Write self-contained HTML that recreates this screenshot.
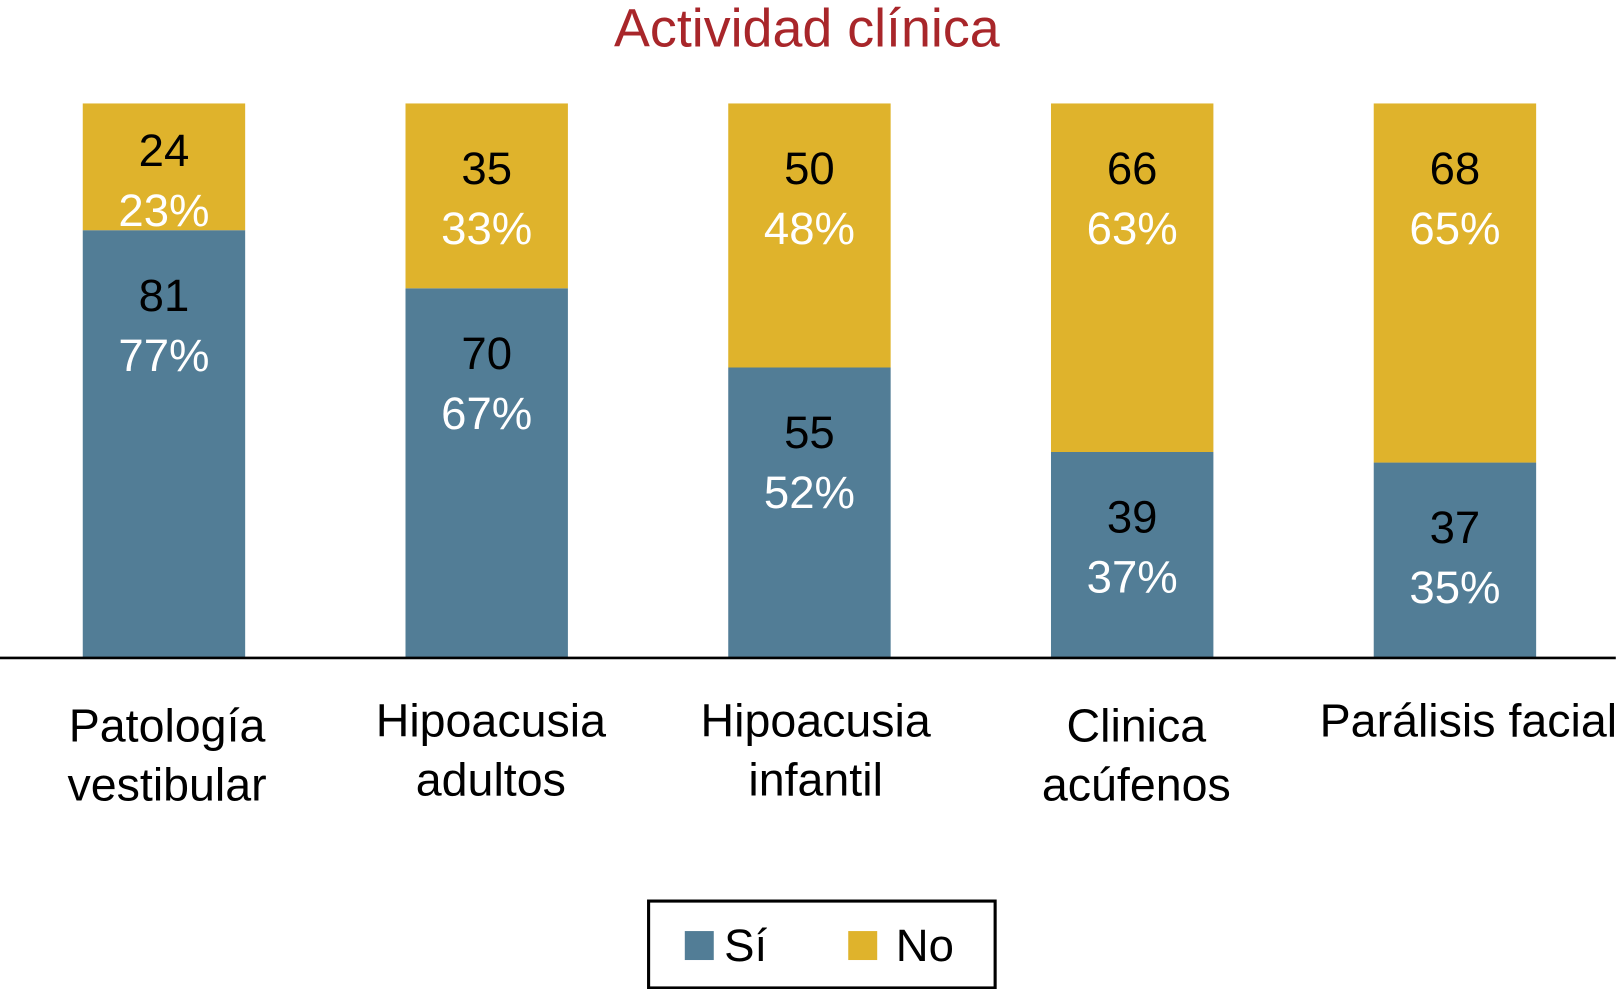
<!DOCTYPE html>
<html><head><meta charset="utf-8"><style>
html,body{margin:0;padding:0;background:#fff;width:1622px;height:989px;overflow:hidden}
svg{display:block}
text{font-family:"Liberation Sans",sans-serif}
</style></head><body>
<svg id="chart" width="1622" height="989" viewBox="0 0 1568 956" preserveAspectRatio="none" xmlns="http://www.w3.org/2000/svg">
<text x="780" y="45" text-anchor="middle" font-size="52" fill="#a8262a">Actividad clínica</text>
<g id="bars"></g>
<line x1="0" y1="636" x2="1562" y2="636" stroke="#000" stroke-width="2.5"/>
<g id="cats"></g>
<g>
<rect x="627" y="871" width="335" height="84" fill="#fff" stroke="#000" stroke-width="3"/>
<rect x="662" y="900" width="28" height="28" fill="#527d96"/>
<text x="700" y="929" font-size="44">Sí</text>
<rect x="820" y="900" width="28" height="28" fill="#dfb32c"/>
<text x="866" y="929" font-size="44">No</text>
</g>
</svg>
<script>
const categories=[["Patología","vestibular"],["Hipoacusia","adultos"],["Hipoacusia","infantil"],["Clinica","acúfenos"],["Parálisis facial"]];
const siValues=[81,70,55,39,37];
const noValues=[24,35,50,66,68];
const siPct=["77%","67%","52%","37%","35%"];
const noPct=["23%","33%","48%","63%","65%"];
const NS="http://www.w3.org/2000/svg";
const top0=100,base=636,bw=157,x0=80,step=312;
function xPos(i){return x0+i*step;}
function yScale(frac){return base-frac*(base-top0);}
const gb=document.getElementById('bars'),gc=document.getElementById('cats');
function mk(tag,attrs,parent){const e=document.createElementNS(NS,tag);for(const k in attrs)e.setAttribute(k,attrs[k]);parent.appendChild(e);return e;}
const catDx=[3,4,6,4,13];
categories.forEach((c,i)=>{
  const tot=siValues[i]+noValues[i];
  const x=xPos(i),ys=yScale(siValues[i]/tot);
  const r1=mk('rect',{x:x,y:ys,width:bw,height:base-ys,fill:'#527d96'},gb);
  
  
  const r2=mk('rect',{x:x,y:top0,width:bw,height:ys-top0,fill:'#dfb32c'},gb);
  
  
  const cx=x+bw/2;
  const segs=[[top0,ys,noValues[i],noPct[i],'no'],[ys,base,siValues[i],siPct[i],'si']];
  segs.forEach(s=>{
    const c1=Math.min(s[0]+63,(s[0]+s[1])/2-16);
    const t1=mk('text',{x:cx,y:c1+15,'text-anchor':'middle','font-size':44,fill:'#000'},gb);
    t1.textContent=s[2];
    
    
    const t2=mk('text',{x:cx,y:c1+73,'text-anchor':'middle','font-size':44,fill:'#fff'},gb);
    t2.textContent=s[3];
    
    
  });
  c.forEach((line,j)=>{
    const t=mk('text',{x:cx+catDx[i],y:(i==0||i==3?717:712)+j*57,'text-anchor':'middle','font-size':45,fill:'#000'},gc);
    t.textContent=line;
    
    
  });
});
</script>
</body></html>
